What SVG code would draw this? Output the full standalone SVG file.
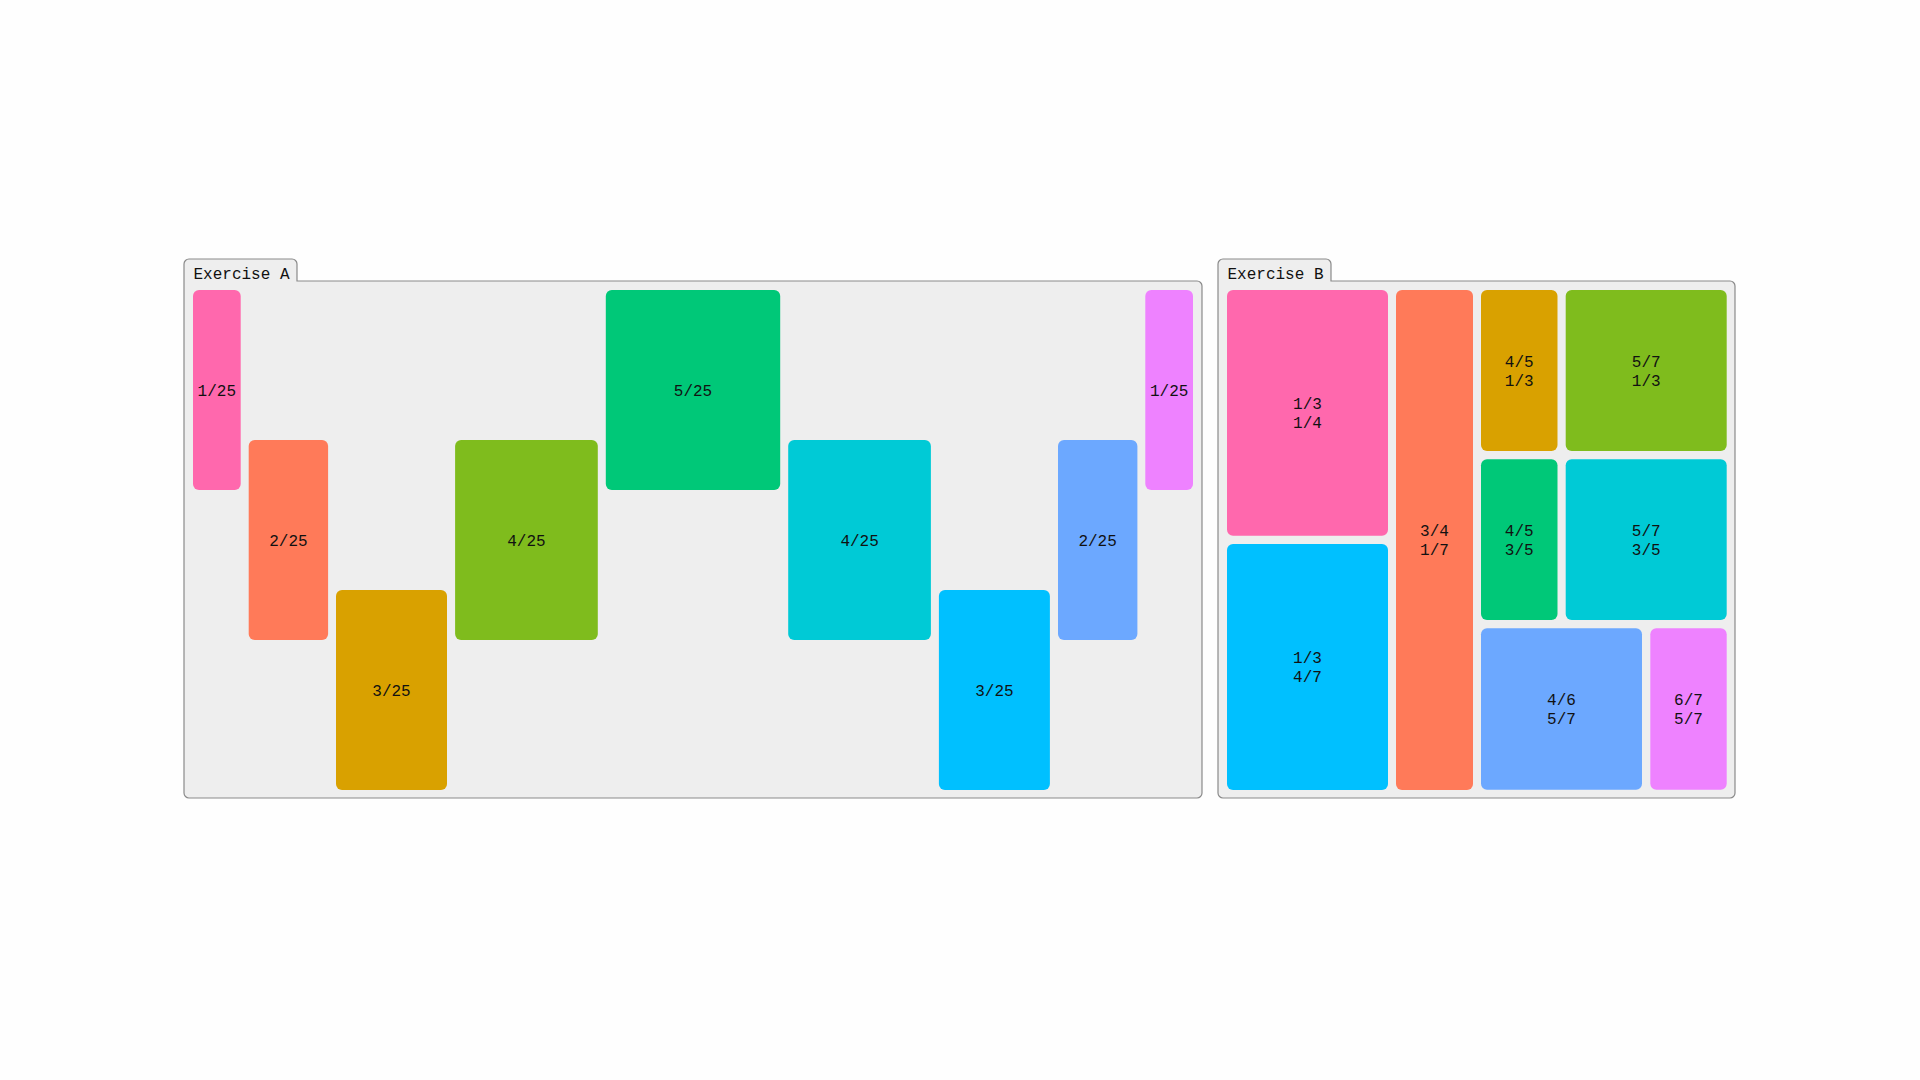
<svg xmlns="http://www.w3.org/2000/svg" width="1920" height="1080" viewBox="0 0 1920 1080">
<style>
.panel{fill:#eeeeee;stroke:#8a8a8a;stroke-width:1.2}
.cell{rx:6;ry:6}
text{font-family:"Liberation Mono","DejaVu Sans Mono",monospace;font-size:16px;fill:#111111}
.lbl{text-anchor:middle}
.pink{fill:#ff68ad}.coral{fill:#ff7a59}.gold{fill:#d9a100}.olive{fill:#7fbc1d}.emerald{fill:#00c878}.teal{fill:#00cad6}.sky{fill:#00c0ff}.blue{fill:#6ca8ff}.violet{fill:#ee82ff}
</style>
<rect width="1920" height="1080" fill="#fefefe"/>
<g id="exercise-a">
<path class="panel" d="M184,793 V264 A5,5 0 0 1 189,259 H292 A5,5 0 0 1 297,264 V281 H1197 A5,5 0 0 1 1202,286 V793 A5,5 0 0 1 1197,798 H189 A5,5 0 0 1 184,793 Z"/>
<text x="193.5" y="279">Exercise A</text>
<g id="a1"><rect class="cell pink" x="193" y="290" width="47.7" height="200"/><text class="lbl" x="216.8" y="395.7">1/25</text></g>
<g id="a2"><rect class="cell coral" x="248.7" y="440" width="79.4" height="200"/><text class="lbl" x="288.4" y="545.7">2/25</text></g>
<g id="a3"><rect class="cell gold" x="336" y="590" width="111" height="200"/><text class="lbl" x="391.5" y="695.7">3/25</text></g>
<g id="a4"><rect class="cell olive" x="455.1" y="440" width="142.7" height="200"/><text class="lbl" x="526.4" y="545.7">4/25</text></g>
<g id="a5"><rect class="cell emerald" x="605.8" y="290" width="174.4" height="200"/><text class="lbl" x="693" y="395.7">5/25</text></g>
<g id="a6"><rect class="cell teal" x="788.2" y="440" width="142.7" height="200"/><text class="lbl" x="859.6" y="545.7">4/25</text></g>
<g id="a7"><rect class="cell sky" x="938.9" y="590" width="111" height="200"/><text class="lbl" x="994.4" y="695.7">3/25</text></g>
<g id="a8"><rect class="cell blue" x="1058" y="440" width="79.4" height="200"/><text class="lbl" x="1097.6" y="545.7">2/25</text></g>
<g id="a9"><rect class="cell violet" x="1145.3" y="290" width="47.7" height="200"/><text class="lbl" x="1169.2" y="395.7">1/25</text></g>
</g>
<g id="exercise-b">
<path class="panel" d="M1218,793 V264 A5,5 0 0 1 1223,259 H1326 A5,5 0 0 1 1331,264 V281 H1730 A5,5 0 0 1 1735,286 V793 A5,5 0 0 1 1730,798 H1223 A5,5 0 0 1 1218,793 Z"/>
<text x="1227.5" y="279">Exercise B</text>
<g id="b1"><rect class="cell pink" x="1227" y="290" width="161" height="245.7"/><text class="lbl" x="1307.5"><tspan x="1307.5" y="409.3">1/3</tspan><tspan x="1307.5" y="428.3">1/4</tspan></text></g>
<g id="b2"><rect class="cell sky" x="1227" y="544" width="161" height="246"/><text class="lbl" x="1307.5"><tspan x="1307.5" y="663.2">1/3</tspan><tspan x="1307.5" y="682.2">4/7</tspan></text></g>
<g id="b3"><rect class="cell coral" x="1396" y="290" width="77" height="500"/><text class="lbl" x="1434.5"><tspan x="1434.5" y="536.2">3/4</tspan><tspan x="1434.5" y="555.2">1/7</tspan></text></g>
<g id="b4"><rect class="cell gold" x="1481" y="290" width="76.5" height="161"/><text class="lbl" x="1519.2"><tspan x="1519.2" y="366.7">4/5</tspan><tspan x="1519.2" y="385.7">1/3</tspan></text></g>
<g id="b5"><rect class="cell olive" x="1565.7" y="290" width="161" height="161"/><text class="lbl" x="1646.2"><tspan x="1646.2" y="366.7">5/7</tspan><tspan x="1646.2" y="385.7">1/3</tspan></text></g>
<g id="b6"><rect class="cell emerald" x="1481" y="459.3" width="76.5" height="160.7"/><text class="lbl" x="1519.2"><tspan x="1519.2" y="535.9">4/5</tspan><tspan x="1519.2" y="554.9">3/5</tspan></text></g>
<g id="b7"><rect class="cell teal" x="1565.7" y="459.3" width="161" height="160.7"/><text class="lbl" x="1646.2"><tspan x="1646.2" y="535.9">5/7</tspan><tspan x="1646.2" y="554.9">3/5</tspan></text></g>
<g id="b8"><rect class="cell blue" x="1481" y="628.3" width="161" height="161.4"/><text class="lbl" x="1561.5"><tspan x="1561.5" y="704.7">4/6</tspan><tspan x="1561.5" y="723.7">5/7</tspan></text></g>
<g id="b9"><rect class="cell violet" x="1650.3" y="628.3" width="76.4" height="161.4"/><text class="lbl" x="1688.5"><tspan x="1688.5" y="704.7">6/7</tspan><tspan x="1688.5" y="723.7">5/7</tspan></text></g>
</g>
<g id="connectors"/>
</svg>
